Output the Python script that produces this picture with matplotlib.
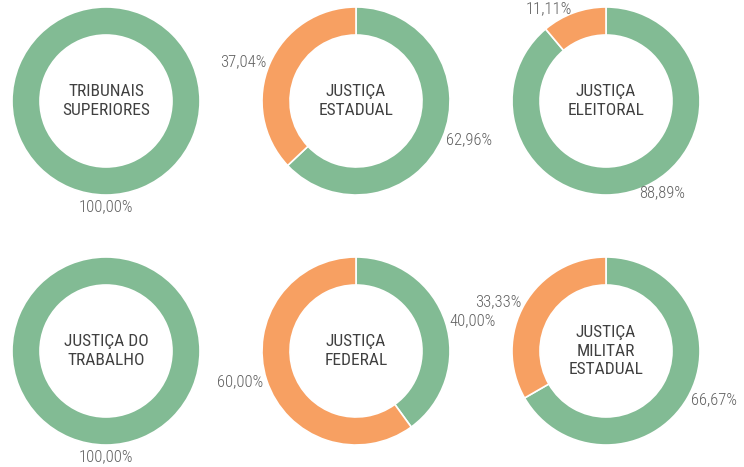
import numpy as np
import matplotlib
matplotlib.use("Agg")
import matplotlib.pyplot as plt

TITLES = [
    "TRIBUNAIS\nSUPERIORES",
    "JUSTIÇA\nESTADUAL",
    "JUSTIÇA\nELEITORAL",
    "JUSTIÇA DO\nTRABALHO",
    "JUSTIÇA\nFEDERAL",
    "JUSTIÇA\nMILITAR\nESTADUAL",
]
GREEN = [100.00, 62.96, 88.89, 100.00, 40.00, 66.67]
ORANGE = [0.00, 37.04, 11.11, 0.00, 60.00, 33.33]

GREEN_COLOR = "#82BB94"
ORANGE_COLOR = "#F7A062"
FONTS = ["Roboto Condensed", "Liberation Sans Narrow", "DejaVu Sans"]

RADIUS = 94
RING = 28

fig = plt.figure(figsize=(7.44, 4.67), dpi=100)
ax = fig.add_axes([0, 0, 1, 1])

for i, (title, g, o) in enumerate(zip(TITLES, GREEN, ORANGE)):
    row, col = divmod(i, 3)
    cx = 106 + 250 * col
    cy = 366 - 250 * row

    pairs = [(v, c) for v, c in ((g, GREEN_COLOR), (o, ORANGE_COLOR)) if v > 0]
    values = [p[0] for p in pairs]
    colors = [p[1] for p in pairs]
    ax.pie(values, colors=colors, startangle=90, counterclock=False,
           center=(cx, cy), radius=RADIUS, frame=True,
           wedgeprops=dict(width=RING, edgecolor="white", linewidth=1.2))

    # percent labels just outside the ring, at the middle of each slice
    cum = 0.0
    for v in values:
        mid = np.radians(90 - (cum + v / 2) * 3.6)
        cum += v
        c, s = np.cos(mid), np.sin(mid)
        x = cx + (RADIUS + 4) * c
        y = cy + (RADIUS + 4) * s
        ha = "left" if c > 0.1 else "right" if c < -0.1 else "center"
        va = "top" if s < -0.99 else "bottom" if s > 0.99 else "center"
        ax.text(x, y, f"{v:.2f}%".replace(".", ","), ha=ha, va=va,
                fontsize=12, color="#606060", family=FONTS, weight="light")

    ax.text(cx, cy, title, ha="center", va="center", fontsize=12.5,
            color="#404040", family=FONTS, linespacing=1.3)

ax.set_xlim(0, 744)
ax.set_ylim(0, 467)
ax.set_aspect("equal")
ax.axis("off")

fig.savefig("out.png", dpi=100)
